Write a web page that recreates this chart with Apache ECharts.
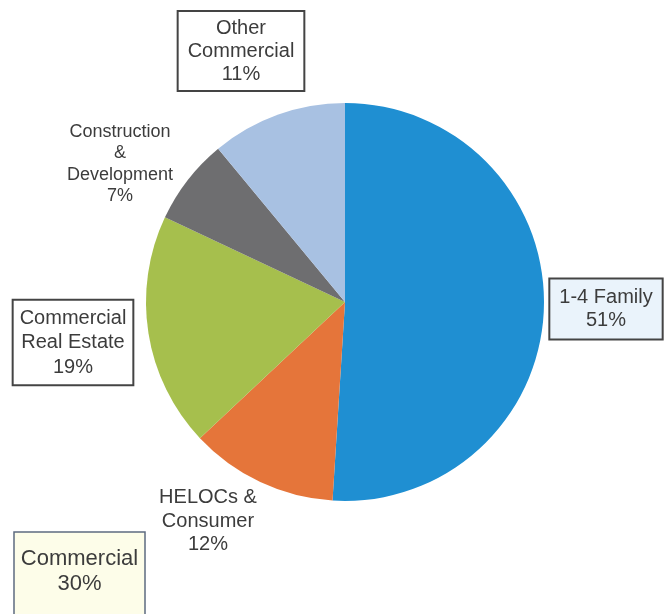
<!DOCTYPE html>
<html>
<head>
<meta charset="utf-8">
<script src="https://cdn.jsdelivr.net/npm/echarts@6/dist/echarts.min.js"></script>
<style>html,body{margin:0;padding:0;background:#fff}#c{width:666px;height:614px}</style>
</head>
<body>
<div id="c"></div>
<script>
const categories = ["1-4 Family", "HELOCs &\nConsumer", "Commercial\nReal Estate", "Construction\n&\nDevelopment", "Other\nCommercial"];
const values = [51, 12, 19, 7, 11];
const colors = ["#1f8fd2", "#e5753a", "#a6bf4d", "#6e6e70", "#a8c1e2"];
const summaryLabel = "Commercial";
const summaryValue = 30;

const labelPos = [[606, 309], [208, 521], [73, 342.5], [120, 164], [241, 51]];
const labelStyles = [
  {backgroundColor: "#eaf3fb", borderColor: "#444", borderWidth: 2, padding: [7, 9, 6, 9], fontSize: 20, lineHeight: 23},
  {fontSize: 20, lineHeight: 23.5},
  {backgroundColor: "#fff", borderColor: "#444", borderWidth: 2, padding: [7, 6, 3, 6], fontSize: 20, lineHeight: 24.5},
  {fontSize: 18, lineHeight: 21.5},
  {backgroundColor: "#fff", borderColor: "#444", borderWidth: 2, padding: [7, 9, 2, 9], fontSize: 20, lineHeight: 23}
];

const chart = echarts.init(document.getElementById('c'));
chart.setOption({
  animation: false,
  series: [{
    type: 'pie',
    center: [345, 302],
    radius: 199,
    startAngle: 90,
    clockwise: true,
    labelLine: {show: false},
    label: {
      show: true,
      position: 'inside',
      overflow: 'none',
      formatter: p => p.name + "\n" + p.value + "%",
      color: "#3c3c3c",
      fontFamily: "Liberation Sans, Arial, sans-serif",
      align: 'center'
    },
    labelLayout: p => ({x: labelPos[p.dataIndex][0], y: labelPos[p.dataIndex][1], align: 'center', verticalAlign: 'middle'}),
    data: categories.map((c, i) => ({
      name: c,
      value: values[i],
      itemStyle: {color: colors[i]},
      label: labelStyles[i]
    }))
  }],
  graphic: [{
    type: 'group',
    children: [
      {type: 'rect', shape: {x: 14, y: 532, width: 131, height: 100}, style: {fill: '#fdfde9', stroke: '#5d6b80', lineWidth: 1.5}},
      {type: 'text', x: 79.5, y: 571, style: {text: summaryLabel + "\n" + summaryValue + "%", font: '22px "Liberation Sans", Arial, sans-serif', fill: '#3c3c3c', align: 'center', verticalAlign: 'middle', lineHeight: 25}}
    ]
  }]
});
</script>
</body>
</html>
